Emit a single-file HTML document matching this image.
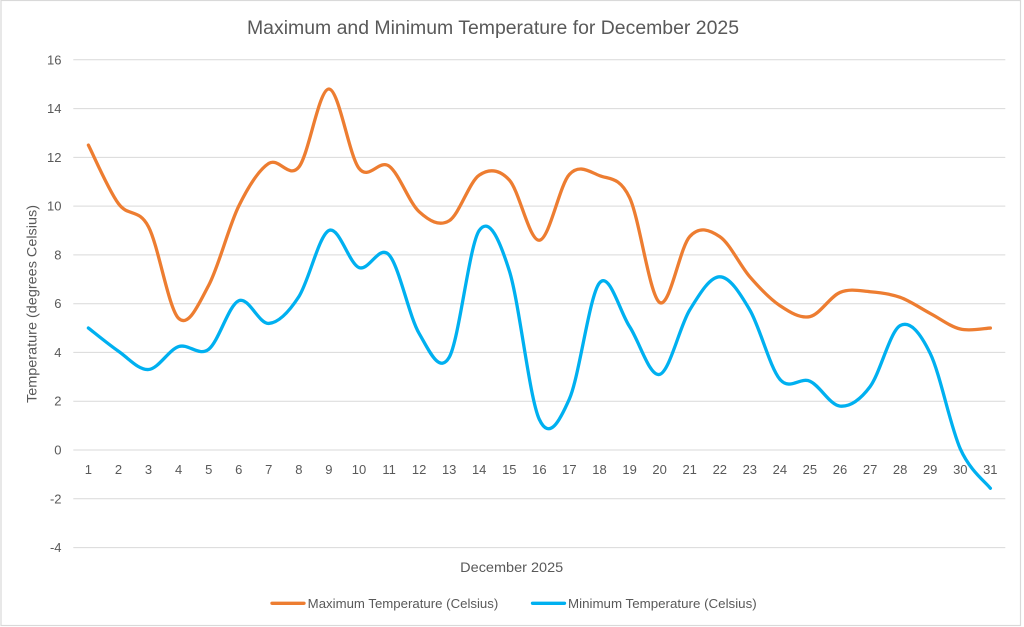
<!DOCTYPE html>
<html>
<head>
<meta charset="utf-8">
<style>
html,body{margin:0;padding:0;background:#fff;}
svg{display:block;}
text{font-family:"Liberation Sans",Arial,sans-serif;fill:#595959;}
</style>
</head>
<body>
<svg width="1024" height="627" viewBox="0 0 1024 627" xmlns="http://www.w3.org/2000/svg">
<rect x="0" y="0" width="1024" height="627" fill="#fff"/>
<rect x="1" y="0.5" width="1019.5" height="625" fill="#fff" stroke="#d9d9d9" stroke-width="1.2"/>

<text x="493" y="34" font-size="19" text-anchor="middle" textLength="492" lengthAdjust="spacingAndGlyphs">Maximum and Minimum Temperature for December 2025</text>

<g stroke="#d9d9d9" stroke-width="1">
<line x1="73.3" y1="59.8" x2="1005.3" y2="59.8"/>
<line x1="73.3" y1="108.6" x2="1005.3" y2="108.6"/>
<line x1="73.3" y1="157.4" x2="1005.3" y2="157.4"/>
<line x1="73.3" y1="206.1" x2="1005.3" y2="206.1"/>
<line x1="73.3" y1="254.9" x2="1005.3" y2="254.9"/>
<line x1="73.3" y1="303.7" x2="1005.3" y2="303.7"/>
<line x1="73.3" y1="352.4" x2="1005.3" y2="352.4"/>
<line x1="73.3" y1="401.2" x2="1005.3" y2="401.2"/>
<line x1="73.3" y1="450" x2="1005.3" y2="450"/>
<line x1="73.3" y1="498.8" x2="1005.3" y2="498.8"/>
<line x1="73.3" y1="547.6" x2="1005.3" y2="547.6"/>
</g>

<g font-size="13" text-anchor="end">
<text x="61.5" y="64.3">16</text>
<text x="61.5" y="113.1">14</text>
<text x="61.5" y="161.9">12</text>
<text x="61.5" y="210.6">10</text>
<text x="61.5" y="259.4">8</text>
<text x="61.5" y="308.2">6</text>
<text x="61.5" y="356.9">4</text>
<text x="61.5" y="405.7">2</text>
<text x="61.5" y="454.5">0</text>
<text x="61.5" y="503.3">-2</text>
<text x="61.5" y="552.1">-4</text>
</g>

<g font-size="13" text-anchor="middle">
<text x="88.4" y="474">1</text>
<text x="118.5" y="474">2</text>
<text x="148.5" y="474">3</text>
<text x="178.6" y="474">4</text>
<text x="208.7" y="474">5</text>
<text x="238.7" y="474">6</text>
<text x="268.8" y="474">7</text>
<text x="298.9" y="474">8</text>
<text x="328.9" y="474">9</text>
<text x="359.0" y="474">10</text>
<text x="389.1" y="474">11</text>
<text x="419.1" y="474">12</text>
<text x="449.2" y="474">13</text>
<text x="479.2" y="474">14</text>
<text x="509.3" y="474">15</text>
<text x="539.4" y="474">16</text>
<text x="569.4" y="474">17</text>
<text x="599.5" y="474">18</text>
<text x="629.6" y="474">19</text>
<text x="659.6" y="474">20</text>
<text x="689.7" y="474">21</text>
<text x="719.8" y="474">22</text>
<text x="749.8" y="474">23</text>
<text x="779.9" y="474">24</text>
<text x="809.9" y="474">25</text>
<text x="840.0" y="474">26</text>
<text x="870.1" y="474">27</text>
<text x="900.1" y="474">28</text>
<text x="930.2" y="474">29</text>
<text x="960.3" y="474">30</text>
<text x="990.3" y="474">31</text>
</g>

<text x="511.7" y="572" font-size="13.5" text-anchor="middle" textLength="103" lengthAdjust="spacingAndGlyphs">December 2025</text>

<text transform="translate(36.5,304) rotate(-90)" font-size="13.5" text-anchor="middle" textLength="198" lengthAdjust="spacingAndGlyphs">Temperature (degrees Celsius)</text>

<path id="maxLine" fill="none" stroke="#ED7D31" stroke-width="3.3" stroke-linecap="round" stroke-linejoin="round"
d="M88.4,145.1 L118.5,203.7 L148.5,226.8 L178.6,318.3 L208.7,285.4 L238.7,206.1 L268.8,163.4 L298.9,167.1 L328.9,88.3 L359,168.3 L389.1,166.1 L419.1,211.7 L449.2,220.7 L479.2,175.1 L509.3,180 L539.4,240.2 L569.4,174.4 L599.5,175.6 L629.6,197.6 L659.6,303.7 L689.7,236.6 L719.8,236.6 L749.8,276.8 L779.9,305.6 L809.9,316.6 L840,292.4 L870.1,291.7 L900.1,297.3 L930.2,313.4 L960.3,329 L990.3,328"/>
<path id="minLine" fill="none" stroke="#00B0F0" stroke-width="3.3" stroke-linecap="round" stroke-linejoin="round"
d="M88.4,328 L118.5,351.2 L148.5,369.5 L178.6,346.6 L208.7,349.3 L238.7,300.7 L268.8,323.4 L298.9,296.6 L328.9,230.5 L359,267.6 L389.1,254.9 L419.1,333.4 L449.2,357.3 L479.2,230.5 L509.3,270.7 L539.4,419.5 L569.4,398.8 L599.5,282.9 L629.6,326.6 L659.6,374.4 L689.7,310 L719.8,276.8 L749.8,310 L779.9,379.3 L809.9,381.2 L840,406.1 L870.1,386.6 L900.1,325.6 L930.2,353.4 L960.3,448.8 L990.3,488.3"/>

<line x1="272" y1="603.3" x2="304" y2="603.3" stroke="#ED7D31" stroke-width="3.3" stroke-linecap="round"/>
<text x="307.7" y="608" font-size="13" textLength="190.6" lengthAdjust="spacingAndGlyphs">Maximum Temperature (Celsius)</text>
<line x1="532.5" y1="603.3" x2="564.5" y2="603.3" stroke="#00B0F0" stroke-width="3.3" stroke-linecap="round"/>
<text x="568" y="608" font-size="13" textLength="188.7" lengthAdjust="spacingAndGlyphs">Minimum Temperature (Celsius)</text>
</svg>
<script>
(function(){
var maxV=[12.5,10.1,9.15,5.4,6.75,10.0,11.75,11.6,14.8,11.55,11.64,9.77,9.4,11.27,11.07,8.6,11.3,11.25,10.35,6.05,8.75,8.75,7.1,5.92,5.47,6.46,6.49,6.26,5.6,4.96,5.0];
var minV=[5.0,4.05,3.3,4.24,4.13,6.12,5.19,6.29,9.0,7.48,8.0,4.78,3.8,9.0,7.35,1.25,2.1,6.85,5.06,3.1,5.74,7.1,5.74,2.9,2.82,1.8,2.6,5.1,3.96,0.05,-1.57];
function pts(v){return v.map(function(t,i){return [88.4+i*30.065,450-t*24.39];});}
function f(n){return n.toFixed(2);}
function smooth(p){
  var d="M"+f(p[0][0])+","+f(p[0][1]);
  for(var i=0;i<p.length-1;i++){
    var p0=p[i-1]||p[i],p1=p[i],p2=p[i+1],p3=p[i+2]||p[i+1];
    var c1x=p1[0]+(p2[0]-p0[0])/6,c1y=p1[1]+(p2[1]-p0[1])/6;
    var c2x=p2[0]-(p3[0]-p1[0])/6,c2y=p2[1]-(p3[1]-p1[1])/6;
    d+=" C"+f(c1x)+","+f(c1y)+" "+f(c2x)+","+f(c2y)+" "+f(p2[0])+","+f(p2[1]);
  }
  return d;
}
document.getElementById("maxLine").setAttribute("d",smooth(pts(maxV)));
document.getElementById("minLine").setAttribute("d",smooth(pts(minV)));
})();
</script>
</body>
</html>
